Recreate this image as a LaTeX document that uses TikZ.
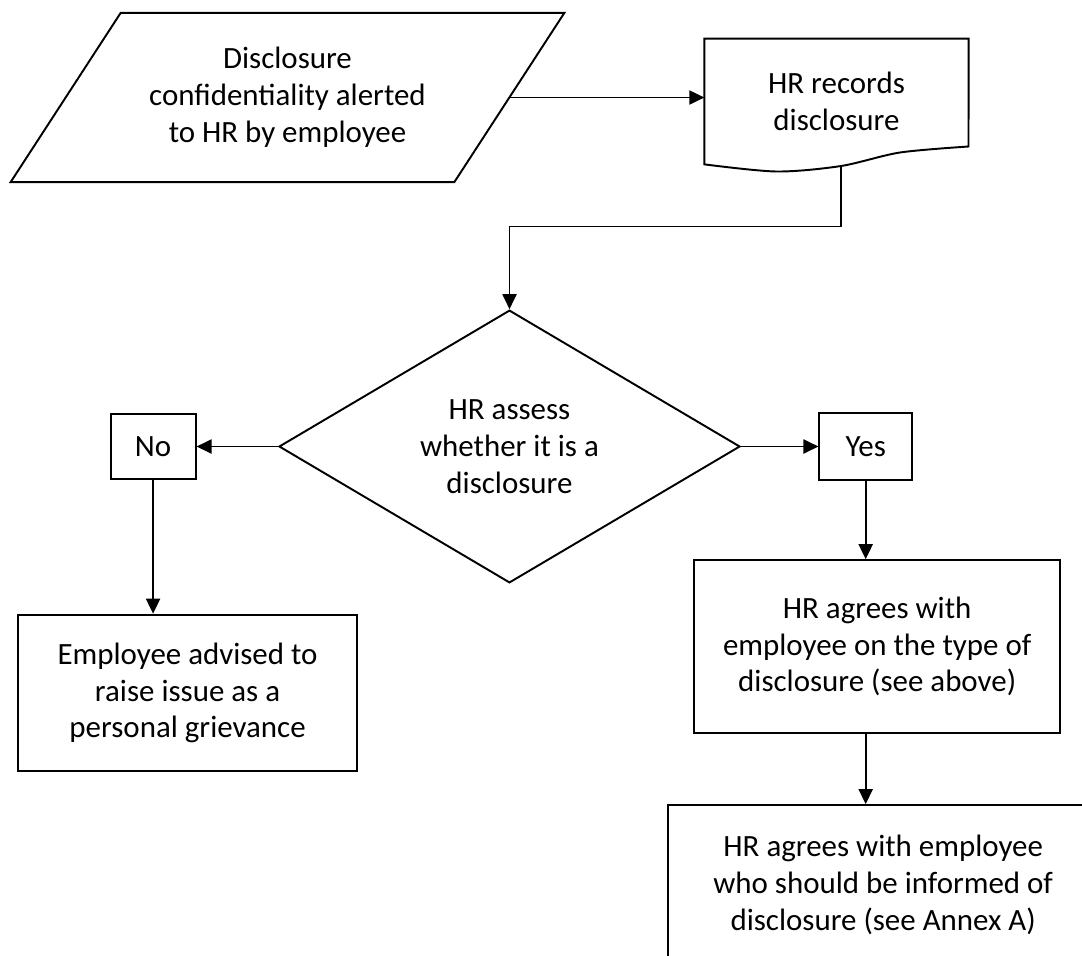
\documentclass[tikz,border=0pt]{standalone}
\usepackage{fontspec}
\setmainfont{Carlito}
\usepackage{tikz}
\usetikzlibrary{positioning,shapes.geometric,arrows.meta}
\tikzset{
  border/.style={draw=black,line width=1.1pt},
  process/.style={border,align=center,inner sep=2pt},
  answer/.style={border,align=center,inner sep=2pt},
  decision/.style={diamond,border,align=center,inner sep=0pt,minimum width=9.22cm,minimum height=5.17cm},
  flow/.style={line width=1.1pt,-{Triangle[length=0.3cm,width=0.28cm]}}
}

\begin{document}
\begin{tikzpicture}[node distance=1.6cm and 1.6cm, font=\fontsize{17.6}{21}\selectfont]
  \useasboundingbox (0,0) rectangle (21.64,-19.1);
  \clip (0,0) rectangle (21.64,-19.1);
  \node[align=center,minimum width=8.86cm,minimum height=3.37cm] (alert) at (5.75,-1.95) {Disclosure\\confidentiality alerted\\to HR by employee};
  \draw[border] ([xshift=1.1cm]alert.north west) -- ([xshift=1.1cm]alert.north east)
    -- ([xshift=-1.1cm]alert.south east) -- ([xshift=-1.1cm]alert.south west) -- cycle;
  \node[align=center,minimum width=5.27cm,minimum height=2.5cm] (record) at (16.73,-2.03) {HR records\\disclosure};
  \draw[border] plot[smooth] coordinates {(record.south west) (15.53,-3.43) (16.82,-3.32) (18.0,-3.05) (19.37,-2.93)}
    -- (record.north east) -- (record.north west) -- cycle;
  \coordinate (recout) at (16.82,-3.32);
  \coordinate (turn) at (16.82,-4.53);
  \node[decision] (assess) at (10.19,-8.93) {HR assess\\whether it is a\\disclosure};
  \node[answer,minimum width=1.7cm,minimum height=1.31cm,left=1.63cm of assess] (no) {No};
  \node[answer,minimum width=1.85cm,minimum height=1.35cm,right=1.55cm of assess] (yes) {Yes};
  \node[process,minimum width=6.78cm,minimum height=3.13cm,below=2.67cm of no,xshift=0.69cm] (advise) {Employee advised to\\raise issue as a\\personal grievance};
  \node[process,minimum width=7.33cm,minimum height=3.45cm,below=1.56cm of yes,xshift=0.23cm] (agree) {HR agrees with\\employee on the type of\\disclosure (see above)};
  \node[process,minimum width=8.61cm,minimum height=3.2cm,below=1.41cm of agree,xshift=0.12cm] (inform) {HR agrees with employee\\who should be informed of\\disclosure (see Annex A)};

  \draw[flow] (alert.east) -- (alert.east -| record.west);
  \draw[flow] (recout) -- (turn) -| (assess.north);
  \draw[flow] (assess.west) -- (no.east);
  \draw[flow] (assess.east) -- (yes.west);
  \draw[flow] (no.south) -- (no.south |- advise.north);
  \draw[flow] (yes.south) -- (yes.south |- agree.north);
  \draw[flow] (yes.south |- agree.south) -- (yes.south |- inform.north);
\end{tikzpicture}
\end{document}
